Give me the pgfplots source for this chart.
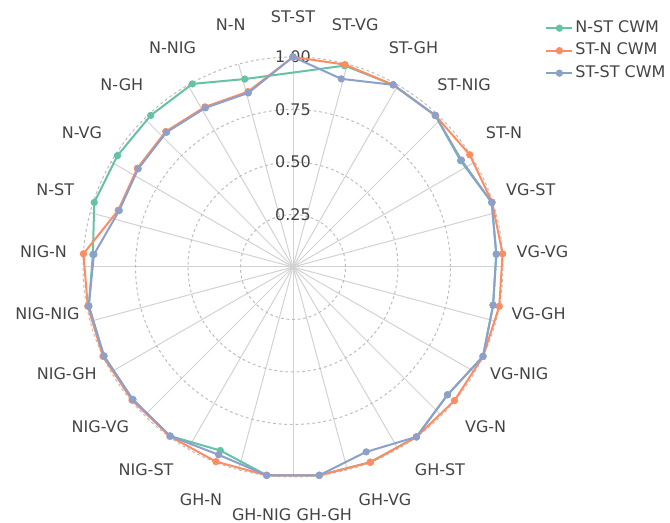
\documentclass[border=0pt]{standalone}
\usepackage{fontspec}
\setmainfont{DejaVu Sans}
\usepackage{pgfplots}
\pgfplotsset{compat=1.18}
\definecolor{cg}{HTML}{66C2A5}
\definecolor{co}{HTML}{FC8D62}
\definecolor{cb}{HTML}{8DA0CB}
\definecolor{txt}{HTML}{444444}
\definecolor{spoke}{HTML}{D2D2D2}
\definecolor{ring}{HTML}{BDBDBD}
\begin{document}
\begin{tikzpicture}[font=\fontsize{8pt}{9.6pt}\selectfont, text=txt]
\begin{axis}[
  scale only axis, width=210pt, height=210pt,
  xmin=-1, xmax=1, ymin=-1, ymax=1,
  axis lines=none, clip=false,
  legend style={at={(1.1,1.091)}, anchor=north west, draw=none, fill=none,
    font=\fontsize{8pt}{9.6pt}\selectfont, text=txt,
    row sep=2.25pt, inner sep=0pt,
    nodes={inner sep=1pt, text height=5.5pt, text depth=1.5pt}},
  legend cell align=left,
  legend image code/.code={\draw[mark repeat=2,mark phase=2,#1] plot coordinates {(0pt,0pt) (6.5pt,0pt) (13pt,0pt)};},
]
\coordinate (C) at (axis cs:0,0);
% grid
\pgfplotsinvokeforeach{0,15,...,345}{\draw[spoke, line width=0.5pt] (axis cs:0,0) -- ++(#1:105pt);}
\pgfplotsinvokeforeach{26.25,52.5,78.75,105}{\draw[ring, line width=0.5pt, dash pattern=on 1.4pt off 1.4pt] (axis cs:0,0) circle[radius=#1pt];}
% radial tick labels
\path (axis cs:0,0) ++(90:26.25pt) node{0.25};
\path (axis cs:0,0) ++(90:52.5pt) node{0.50};
\path (axis cs:0,0) ++(90:78.75pt) node{0.75};
\path (axis cs:0,0) ++(90:105pt) node{1.00};
% category labels
\path (axis cs:0,0) ++(90:125pt) node{ST-ST};
\path (axis cs:0,0) ++(75.6:125pt) node{ST-VG};
\path (axis cs:0,0) ++(61.2:125pt) node{ST-GH};
\path (axis cs:0,0) ++(46.8:125pt) node{ST-NIG};
\path (axis cs:0,0) ++(32.4:125pt) node{ST-N};
\path (axis cs:0,0) ++(18:125pt) node{VG-ST};
\path (axis cs:0,0) ++(3.6:125pt) node{VG-VG};
\path (axis cs:0,0) ++(-10.8:125pt) node{VG-GH};
\path (axis cs:0,0) ++(-25.2:125pt) node{VG-NIG};
\path (axis cs:0,0) ++(-39.6:125pt) node{VG-N};
\path (axis cs:0,0) ++(-54:125pt) node{GH-ST};
\path (axis cs:0,0) ++(-68.4:125pt) node{GH-VG};
\path (axis cs:0,0) ++(-82.8:125pt) node{GH-GH};
\path (axis cs:0,0) ++(-97.2:125pt) node{GH-NIG};
\path (axis cs:0,0) ++(-111.6:125pt) node{GH-N};
\path (axis cs:0,0) ++(-126:125pt) node{NIG-ST};
\path (axis cs:0,0) ++(-140.4:125pt) node{NIG-VG};
\path (axis cs:0,0) ++(-154.8:125pt) node{NIG-GH};
\path (axis cs:0,0) ++(-169.2:125pt) node{NIG-NIG};
\path (axis cs:0,0) ++(-183.6:125pt) node{NIG-N};
\path (axis cs:0,0) ++(-198:125pt) node{N-ST};
\path (axis cs:0,0) ++(-212.4:125pt) node{N-VG};
\path (axis cs:0,0) ++(-226.8:125pt) node{N-GH};
\path (axis cs:0,0) ++(-241.2:125pt) node{N-NIG};
\path (axis cs:0,0) ++(-255.6:125pt) node{N-N};
% data (angle, value)
\addplot[cg, line width=1pt, mark=*, mark size=1.3pt, data cs=polar] coordinates {
(75.6,0.99) (61.2,0.99) (46.8,0.99) (32.4,0.945) (18,0.995) (3.6,0.97)
(-10.8,0.97) (-25.2,1.0) (-39.6,0.955) (-54,1.0) (-68.4,1.0) (-82.8,1.0)
(-97.2,1.0) (-111.6,0.94) (-126,0.995) (-140.4,0.99) (-154.8,0.995) (-169.2,0.99)
(-183.6,0.955) (-198,0.995) (-212.4,0.99) (-226.8,0.99) (-241.2,0.995) (-255.6,0.924)
(-284.4,0.99)};
\addplot[co, line width=1pt, mark=*, mark size=1.3pt, data cs=polar] coordinates {
(90,1.0) (75.6,0.995) (61.2,0.99) (46.8,0.99) (32.4,0.997) (18,0.997) (3.6,1.0)
(-10.8,1.0) (-25.2,1.0) (-39.6,0.998) (-54,1.0) (-68.4,1.0) (-82.8,1.0)
(-97.2,1.0) (-111.6,0.997) (-126,0.997) (-140.4,0.995) (-154.8,1.0) (-169.2,0.995)
(-183.6,1.0) (-198,0.875) (-212.4,0.878) (-226.8,0.885) (-241.2,0.87) (-255.6,0.862)
(-270,1.0)};
\addplot[cb, line width=1pt, mark=*, mark size=1.3pt, data cs=polar] coordinates {
(90,1.0) (75.6,0.925) (61.2,0.99) (46.8,0.99) (32.4,0.95) (18,0.995) (3.6,0.97)
(-10.8,0.97) (-25.2,1.0) (-39.6,0.955) (-54,1.0) (-68.4,0.947) (-82.8,1.0)
(-97.2,1.0) (-111.6,0.962) (-126,0.995) (-140.4,0.99) (-154.8,0.995) (-169.2,0.99)
(-183.6,0.95) (-198,0.87) (-212.4,0.873) (-226.8,0.88) (-241.2,0.865) (-255.6,0.856)
(-270,1.0)};
\legend{N-ST CWM, ST-N CWM, ST-ST CWM}
\end{axis}
\pgfresetboundingbox
\useasboundingbox (C) ++(-146.5pt,-128pt) rectangle ++(335pt,261.5pt);
\end{tikzpicture}
\end{document}
